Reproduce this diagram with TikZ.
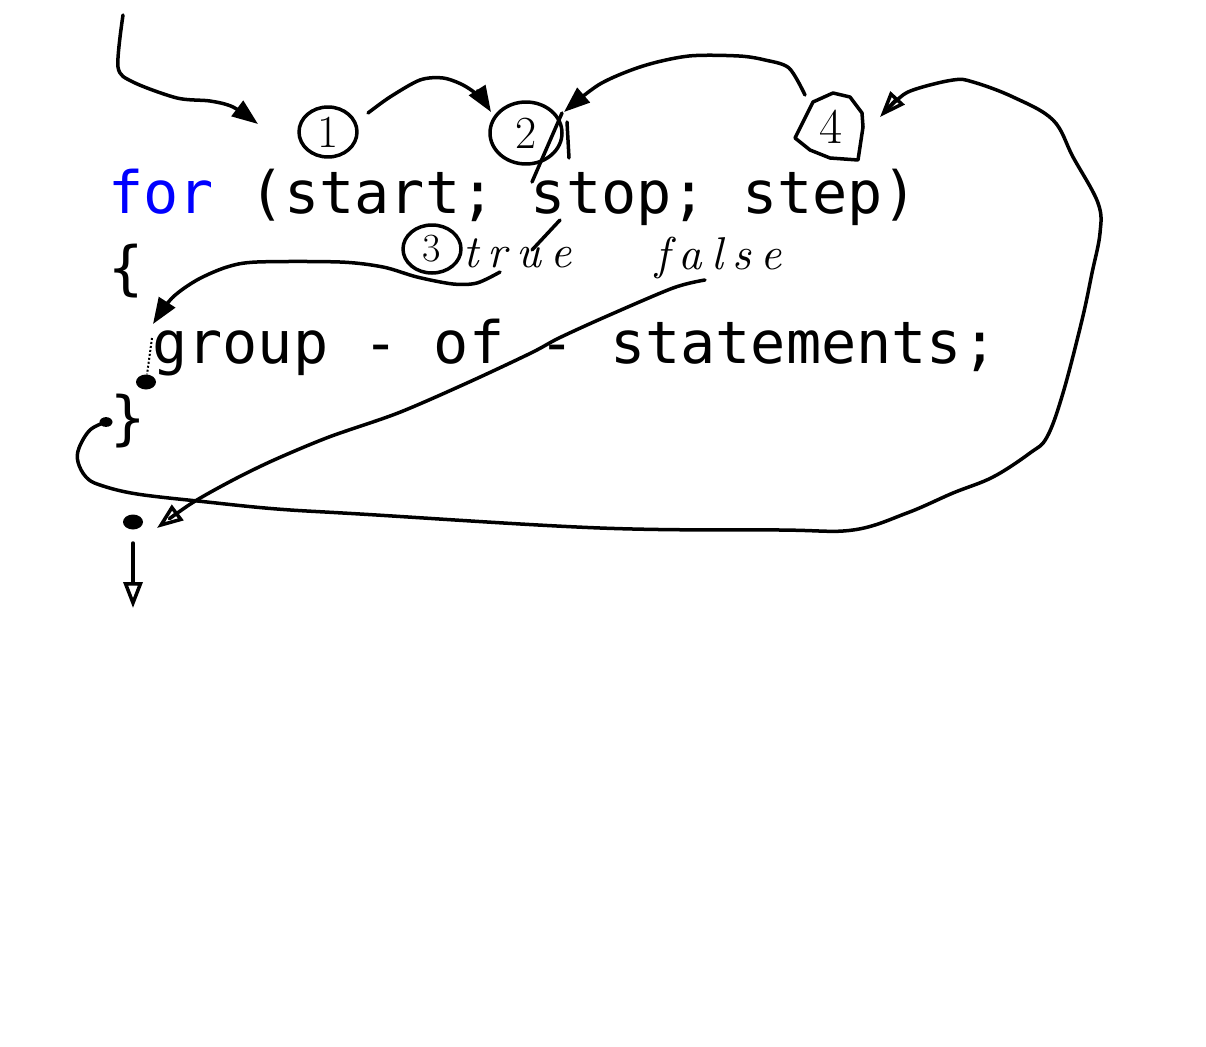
\documentclass[tikz,border=0pt]{standalone}
\usepackage{fontspec}
\setmonofont{DejaVu Sans Mono}
\newfontfamily\scrawlfont{lmroman10-italic.otf}[LetterSpace=20]
\usepackage{tikz}
\usetikzlibrary{arrows.meta,shapes.geometric}

\tikzset{
  hand/.style={line width=3.5pt, line cap=round, line join=round},
  code/.style={font=\ttfamily\fontsize{58.5}{75}\selectfont, inner sep=0pt, anchor=base west},
  num/.style={font=\fontsize{46}{46}\selectfont, inner sep=0pt},
  scrawl/.style={font=\scrawlfont\fontsize{46}{46}\selectfont, inner sep=0pt, anchor=base west},
  ring/.style={hand, draw, ellipse, inner sep=0pt},
  solidhead/.style={-{Triangle[length=26pt,width=19pt]}},
  openhead/.style={-{Triangle[open,length=26pt,width=19pt]}},
  blob/.style={ellipse, fill, inner sep=0pt, minimum width=#1, minimum height=0.75*#1}
}

\begin{document}
\begin{tikzpicture}[x=1pt,y=-1pt]
\useasboundingbox (0,0) rectangle (1206,1046);
% the code, one node per line
\node[code] (forline) at (108,213) {\textcolor{blue}{for} (start; stop; step)};
\node[code] (openbrace) at (108,288) {\{};
\node[code] (body) at (152,363) {group - of - statements;};
\node[code] (closebrace) at (110,438) {\}};
% numbered steps
\node[ring, num, minimum width=58pt, minimum height=50pt] (one) at (328,132) {1};
\node[ring, num, minimum width=72pt, minimum height=62pt] (two) at (526,133) {2};
\node[ring, num, font=\fontsize{40}{40}\selectfont, minimum width=58pt, minimum height=48pt] (three) at (432,249) {3};
\node[num, font=\fontsize{50}{50}\selectfont] (four) at (831,127) {4};
\draw[hand] (795,138) -- (813,102) -- (833,93) -- (850,97) -- (862,113) -- (863,127) -- (858,160) -- (830,158) -- (810,150) -- cycle;
\node[scrawl] (truetxt) at (463,267) {true};
\node[scrawl] (falsetxt) at (655,269) {false};
% dots
\node[blob=20pt] (bodydot) at (146,382) {};
\node[blob=13pt] (loopdot) at (106,422) {};
\node[blob=20pt] (exitdot) at (133,522) {};
\coordinate (entry) at (123,15);
\coordinate (exit) at (133,608);
% scribbles round 2
\draw[hand] (532,182) -- (562,113);
\draw[hand] (567,122) -- (569,158);
\draw[hand] (560,220) -- (532,250);
% arrows
\draw[hand, solidhead] plot[smooth, tension=0.5] coordinates {(entry) (118,67) (133,82) (177,98) (210,101) (233,107) (258,124)};
\draw[hand, solidhead] plot[smooth] coordinates {(368,113) (390,97) (420,80) (443,78) (463,85) (480,97) (491,112)};
\draw[hand, solidhead] plot[smooth, tension=0.5] coordinates {(805,95) (789,68) (765,60) (739,56) (689,56) (643,66) (600,84) (564,112)};
\draw[hand, solidhead] plot[smooth] coordinates {(500,272) (477,283) (453,284) (417,277) (383,267) (340,262) (257,262) (227,267) (197,280) (172,298) (153,324)};
\draw[dotted, line width=2pt] (152,338) -- (bodydot);
\draw[hand, openhead] plot[smooth] coordinates {(705,280) (673,288) (605,317) (559,338) (531,353) (467,383) (398,413) (329,437) (274,460) (233,480) (192,503) (157,528)};
\draw[hand, openhead] plot[smooth, tension=0.6] coordinates {(loopdot) (90,430) (79,448) (78,462) (86,477) (100,485) (137,494) (207,502) (277,509) (360,514) (600,528) (780,530) (853,530) (907,513) (953,493) (993,477) (1030,453) (1047,437) (1063,393) (1082,320) (1092,273) (1100,233) (1098,203) (1073,157) (1053,120) (1013,97) (973,82) (953,80) (913,90) (897,100) (880,117)};
\draw[hand, openhead] (exitdot) ++(0,21) -- (exit);
\end{tikzpicture}
\end{document}
